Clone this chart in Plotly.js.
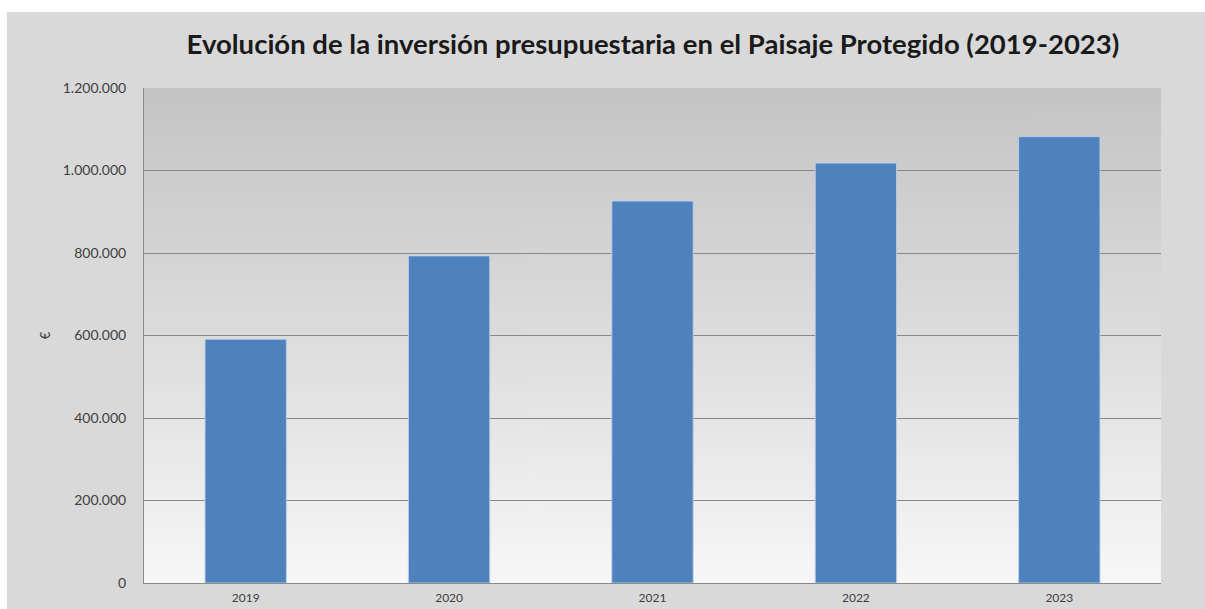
<!DOCTYPE html>
<html>
<head>
<meta charset="utf-8">
<script src="https://cdn.plot.ly/plotly-3.0.1.min.js"></script>
<style>
  html, body { margin: 0; padding: 0; background: #ffffff; }
  #chart { position: absolute; left: 7px; top: 12px; width: 1198px; height: 597px; }
</style>
</head>
<body>
<div id="chart"></div>
<script>
/* DATA */
var years = ['2019', '2020', '2021', '2022', '2023'];
var investment = [591000, 793000, 926000, 1018000, 1082000];
var yTicks = [0, 200000, 400000, 600000, 800000, 1000000, 1200000];

/* gradient for the plot area, dark grey at the top to near white at the bottom */
var cv = document.createElement('canvas');
cv.width = 4;
cv.height = 256;
var ctx = cv.getContext('2d');
var grad = ctx.createLinearGradient(0, 0, 0, 256);
grad.addColorStop(0, '#c4c4c4');
grad.addColorStop(0.45, '#dadada');
grad.addColorStop(1, '#f7f7f7');
ctx.fillStyle = grad;
ctx.fillRect(0, 0, 4, 256);
var bgImage = cv.toDataURL('image/png');

var graphDiv = document.getElementById('chart');
var data = [{
	x: years,
	y: investment,
	type: 'bar',
	marker: {
		color: '#4f81bd',
		line: { color: 'rgba(185,208,236,0.9)', width: 1 }
	},
	hoverinfo: 'x+y'
}];

var layout = {
	width: 1198,
	height: 597,
	margin: { l: 137, r: 44, t: 76, b: 26 },
	separators: ',.',
	title: {
		text: '<b>Evolución de la inversión presupuestaria en el Paisaje Protegido (2019-2023)</b>',
		font: { family: 'Lato, sans-serif', size: 27.5, color: '#1a1a1a' },
		x: 0.5392,
		xanchor: 'center',
		y: 0.945,
		yanchor: 'middle'
	},
	xaxis: {
		type: 'category',
		showgrid: false,
		showline: true,
		linecolor: '#8a8a8a',
		linewidth: 1,
		ticks: '',
		ticklabelstandoff: 4,
		tickfont: { family: 'Lato, sans-serif', size: 12, color: '#404040' }
	},
	yaxis: {
		title: {
			text: '€',
			font: { family: 'Lato, sans-serif', size: 13, color: '#404040' },
			standoff: 9
		},
		range: [0, 1200000],
		tickvals: yTicks,
		tickformat: ',d',
		showgrid: true,
		gridcolor: '#878787',
		gridwidth: 1,
		zeroline: false,
		showline: true,
		linecolor: '#8a8a8a',
		linewidth: 1,
		ticks: '',
		ticklabelstandoff: 14,
		tickfont: { family: 'Lato, sans-serif', size: 14, color: '#404040' }
	},
	bargap: 0.6,
	showlegend: false,
	images: [{
		source: bgImage,
		xref: 'paper',
		yref: 'paper',
		x: 0,
		y: 1,
		sizex: 1,
		sizey: 1,
		sizing: 'stretch',
		xanchor: 'left',
		yanchor: 'top',
		layer: 'below'
	}],
	paper_bgcolor: '#d9d9d9',
	plot_bgcolor: 'rgba(0,0,0,0)'
};

Plotly.newPlot(graphDiv, data, layout, { displayModeBar: false });
</script>
</body>
</html>
